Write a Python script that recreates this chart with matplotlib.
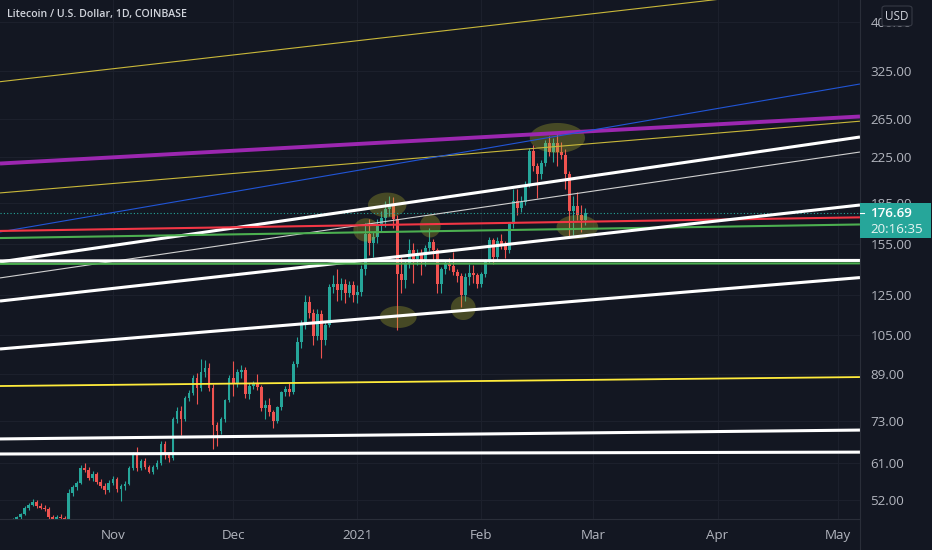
import numpy as np
import pandas as pd
import matplotlib
matplotlib.use("Agg")
import matplotlib.pyplot as plt
import matplotlib.dates as mdates
from matplotlib.patches import Rectangle, FancyBboxPatch
from matplotlib.lines import Line2D
from matplotlib.ticker import NullLocator, NullFormatter

plt.rcParams['font.family'] = ['Open Sans', 'DejaVu Sans']

# daily LTC/USD candles, Oct 6 2020 .. Feb 27 2021
start_date = "2020-10-06"
opens = [47.3, 47.6, 47.9, 48.3, 49.0, 50.2, 51.0, 51.5, 50.6, 50.3, 50.0, 48.3, 48.0, 48.3, 48.1,
         47.9, 53.6, 55.0, 56.0, 59.6, 59.2, 57.2, 58.2, 56.2, 55.3, 54.2,
         56.0, 56.8, 54.5, 55.2, 55.8, 59.6, 63.3, 59.6, 61.4, 59.8, 58.7, 59.8, 61.0, 66.0, 63.0,
         62.2, 73.5, 76.2, 73.5, 80.5, 82.0, 87.5, 84.0, 89.8, 91.2, 84.0, 71.6, 69.8, 73.6, 79.6,
         87.6, 85.4, 89.8, 90.6, 81.6, 84.6, 85.4, 84.2, 77.0, 78.0, 75.6, 73.0, 77.2, 82.5, 83.5,
         82.6, 93.0, 102.2, 110.0, 121.0, 115.6, 104.6, 115.0, 103.0, 110.0, 129.0, 130.6, 127.6,
         131.0, 126.0, 130.0,
         124.6, 126.6, 139.2, 162.0, 156.0, 160.0, 169.2, 173.4, 180.2, 182.4, 172.4, 136.6, 133.2,
         142.2, 151.4, 145.4, 149.0, 143.6, 152.4, 156.6, 151.0, 130.6, 139.2, 142.2, 141.0, 137.6,
         135.4, 124.6, 135.0, 137.2, 136.0,
         130.6, 136.4, 144.2, 157.6, 146.6, 157.0, 155.0, 151.4, 168.8, 186.0, 181.0, 185.4, 199.0,
         230.4, 216.0, 208.8, 219.4, 239.2, 229.8, 239.0, 229.6, 227.0, 208.8, 178.4, 182.6, 175.6,
         172.2]
highs = [48.0, 48.2, 48.6, 49.3, 50.6, 51.4, 52.3, 52.0, 51.4, 50.9, 50.4, 48.8, 48.7, 48.9, 48.5,
         54.6, 55.4, 56.5, 60.3, 60.8, 59.8, 58.9, 58.7, 56.8, 55.9, 56.6,
         57.6, 57.3, 55.7, 56.3, 60.1, 63.8, 65.3, 62.0, 62.3, 60.4, 60.3, 61.6, 66.8, 66.9, 63.8,
         74.2, 77.2, 77.8, 81.2, 83.2, 88.6, 89.3, 94.8, 94.5, 93.2, 85.4, 72.6, 74.2, 80.2, 88.8,
         94.2, 90.8, 92.5, 91.8, 85.6, 86.6, 89.2, 85.0, 79.8, 80.4, 76.4, 77.6, 83.0, 84.6, 85.8,
         94.0, 104.5, 112.0, 125.0, 124.4, 117.6, 117.6, 117.2, 111.2, 131.0, 136.0, 139.5, 134.0,
         133.5, 132.2, 132.4,
         130.0, 142.0, 170.0, 172.5, 163.5, 172.4, 178.4, 186.0, 190.2, 189.6, 175.6, 146.6, 145.6,
         158.6, 155.6, 152.0, 151.6, 154.6, 166.0, 158.6, 152.4, 140.6, 144.6, 146.0, 149.6, 139.6,
         137.0, 136.8, 142.6, 142.0, 137.0,
         137.6, 145.6, 160.0, 159.4, 159.6, 161.6, 157.0, 170.6, 196.0, 196.4, 190.2, 203.0, 233.6,
         236.6, 219.0, 222.4, 241.6, 246.4, 244.2, 248.0, 240.0, 233.0, 211.6, 190.4, 194.0, 183.0,
         180.8]
lows = [46.8, 47.2, 47.4, 48.0, 48.8, 49.9, 50.6, 50.3, 50.0, 49.6, 47.9, 47.6, 47.7, 47.8, 47.0,
        47.6, 52.8, 54.2, 55.6, 58.7, 56.6, 56.5, 55.6, 54.7, 53.4, 53.8,
        55.5, 53.9, 51.7, 54.3, 55.4, 59.1, 58.8, 59.0, 59.3, 58.3, 58.2, 59.3, 60.5, 62.0, 61.3,
        61.8, 72.3, 68.6, 72.8, 79.5, 81.3, 78.4, 83.0, 88.0, 83.0, 64.6, 65.6, 68.8, 72.6, 79.0,
        81.0, 84.2, 87.6, 80.5, 80.2, 83.4, 83.2, 76.2, 73.5, 74.6, 70.8, 72.4, 76.5, 81.0, 81.0,
        81.8, 91.6, 99.6, 108.0, 113.0, 101.0, 102.8, 95.5, 100.6, 108.8, 125.6, 121.8, 122.0,
        120.5, 123.6, 121.0,
        120.4, 124.0, 136.0, 148.0, 147.0, 156.0, 164.0, 167.0, 174.5, 166.0, 107.6, 126.0, 128.4,
        140.0, 131.4, 142.0, 136.0, 141.0, 150.8, 145.0, 125.8, 125.6, 136.6, 138.6, 136.0, 132.0,
        118.6, 121.6, 130.4, 131.6, 128.6,
        129.0, 135.0, 143.0, 142.4, 145.0, 152.0, 146.0, 149.0, 166.0, 175.6, 177.6, 183.6, 197.6,
        211.6, 188.6, 205.0, 216.0, 226.0, 220.0, 216.0, 222.6, 196.0, 160.6, 161.0, 172.0, 163.0,
        168.0]
closes = opens[1:] + [176.69]

last_price = 176.69
last_timer = "20:16:35"

# trend lines drawn on the chart: (start price, end price) at the chart's left / right edge
view_start = "2020-10-03 19:00"
view_end = "2021-05-06 14:00"
line_prices = [
    (310.1, 472.4), (192.9, 262.0), (218.7, 267.3), (163.3, 307.1),
    (143.7, 244.9), (134.2, 229.7), (164.0, 173.8), (159.1, 168.6),
    (121.6, 183.2), (144.3, 144.6), (142.5, 142.8), (99.1, 134.4),
    (84.6, 87.9), (67.5, 70.1), (63.3, 63.8),
]
line_colors = ['#c9b83a', '#c9b83a', '#9c27b0', '#2155d6',
               '#ffffff', '#d0d0d0', '#f23645', '#4caf50',
               '#ffffff', '#ffffff', '#4caf50', '#ffffff',
               '#ffeb3b', '#ffffff', '#ffffff']
line_widths = [0.8, 0.8, 2.8, 0.8, 2.2, 0.8, 1.5, 1.5, 2.2, 2.2, 1.5, 2.2, 1.3, 2.2, 2.2]

# highlight ellipses: centre date, centre price, half width (days), half height (log)
ell_dates = ["2021-01-08 12:00", "2021-01-03 06:00", "2021-01-19 06:00", "2021-01-11 06:00",
             "2021-01-27 12:00", "2021-02-25", "2021-02-20"]
ell_prices = [183.2, 164.7, 167.5, 113.6, 118.0, 166.8, 243.9]
ell_hw = [4.8, 3.2, 2.6, 4.6, 3.1, 5.2, 6.9]
ell_hh = [0.053, 0.050, 0.049, 0.047, 0.051, 0.051, 0.064]

price_ticks = [52, 61, 73, 89, 105, 125, 155, 185, 225, 265, 325, 400]
month_ticks = ["2020-11-01", "2020-12-01", "2021-01-01", "2021-02-01",
               "2021-03-01", "2021-04-01", "2021-05-01"]
month_labels = ["Nov", "Dec", "2021", "Feb", "Mar", "Apr", "May"]

bg = '#131722'
grid_c = '#1c202c'
txt_c = '#b2b5be'
up_c = '#26a69a'
dn_c = '#ef5350'

W, H = 932, 550
fig = plt.figure(figsize=(W / 100, H / 100), dpi=100, facecolor=bg)
ax = fig.add_axes([0, 31 / H, 860 / W, 519 / H], facecolor=bg)

dates = mdates.date2num(pd.date_range(start_date, periods=len(opens), freq="D"))
o = np.array(opens); c = np.array(closes)
hi = np.array(highs); lo = np.array(lows)
up = c >= o
cols = np.where(up, up_c, dn_c)
body_lo = np.minimum(o, c)
body_h = np.maximum(np.abs(c - o), body_lo * 0.004)

ax.set_yscale('log')
x0 = mdates.date2num(pd.Timestamp(view_start))
x1 = mdates.date2num(pd.Timestamp(view_end))
ax.set_xlim(x0, x1)
ax.set_ylim(47.96, 439.5)

ax.vlines(dates, lo, hi, colors=cols, lw=0.8, zorder=2)
ax.bar(dates, body_h, bottom=body_lo, width=0.72, color=cols, linewidth=0, zorder=2.1)

# highlight ellipses (straight ellipses on screen, log y)
t = np.linspace(0, 2 * np.pi, 120)
for d, p, hw, hh in zip(ell_dates, ell_prices, ell_hw, ell_hh):
    cx = mdates.date2num(pd.Timestamp(d))
    ax.fill(cx + hw * np.cos(t), p * np.exp(hh * np.sin(t)),
            color=(0.70, 0.70, 0.18), alpha=0.32, lw=0, zorder=3)

for (pa, pb), col, lw in zip(line_prices, line_colors, line_widths):
    ax.plot([x0, x1], [pa, pb], color=col, lw=lw, solid_capstyle='butt', zorder=4)

ax.axhline(last_price, color=up_c, lw=0.8, ls=(0, (1, 2)), zorder=3.5)

# axes / grid
for s in ax.spines.values():
    s.set_visible(False)
ax.yaxis.tick_right()
ax.set_yticks(price_ticks)
ax.set_yticklabels([f"{v:.2f}" for v in price_ticks])
ax.yaxis.set_minor_locator(NullLocator())
ax.yaxis.set_minor_formatter(NullFormatter())
ax.set_xticks([mdates.date2num(pd.Timestamp(m)) for m in month_ticks])
ax.set_xticklabels(month_labels)
ax.tick_params(axis='y', length=0, pad=7.5, labelsize=9.6, labelcolor=txt_c)
ax.tick_params(axis='x', length=0, pad=7.0, labelsize=9.6, labelcolor=txt_c)
ax.grid(True, color=grid_c, lw=0.8, zorder=0)
ax.set_axisbelow(True)

ax.text(7 / 860, 1 - 14 / 519, "Litecoin / U.S. Dollar, 1D, COINBASE", transform=ax.transAxes,
        color='#d1d4dc', fontsize=7.7, fontweight='semibold', va='center', ha='left')

# separators
fig.add_artist(Line2D([860 / W, 860 / W], [0, 1], color='#2a2e39', lw=0.8))
fig.add_artist(Line2D([0, 860 / W], [31 / H, 31 / H], color='#2a2e39', lw=0.8))

# last price tag
fig.canvas.draw()
yp = ax.transData.transform((x0, last_price))[1]
fig.add_artist(Rectangle((860 / W, (yp - 24.5) / H), 71 / W, 35 / H, transform=fig.transFigure,
                         facecolor=up_c, edgecolor='none', zorder=5))
fig.add_artist(Line2D([860 / W, 864 / W], [yp / H, yp / H], color='white', lw=0.8, zorder=6))
fig.text(870 / W, yp / H, f"{last_price:.2f}", color='white', fontsize=9.6, fontweight='semibold',
         va='center', ha='left', zorder=6)
fig.text(870 / W, (yp - 16.5) / H, last_timer, color='#e8f5f3', fontsize=9.6,
         va='center', ha='left', zorder=6)

# USD box
fig.add_artist(FancyBboxPatch((882 / W, (H - 26) / H), 30 / W, 20 / H, transform=fig.transFigure,
                              boxstyle="round,pad=0,rounding_size=0.004", facecolor=bg,
                              edgecolor='#363a45', lw=0.8, zorder=5))
fig.text(897 / W, (H - 16) / H, "USD", color='#d1d4dc', fontsize=8.5, va='center',
         ha='center', zorder=6)

fig.savefig("out.png", dpi=100, facecolor=bg)
